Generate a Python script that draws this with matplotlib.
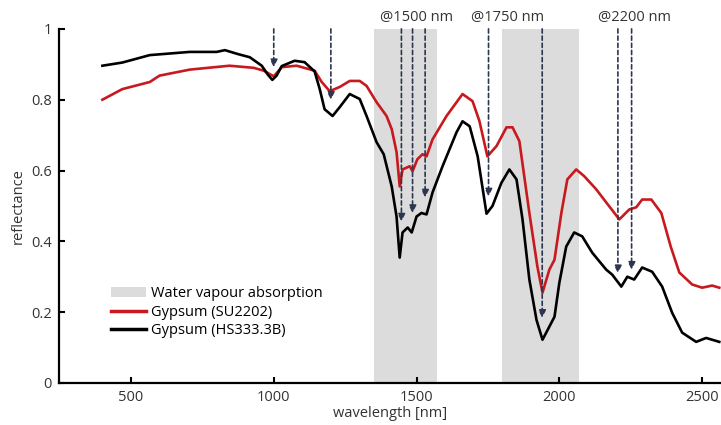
import matplotlib.pyplot as plt
from matplotlib.patches import Patch
from matplotlib.lines import Line2D

plt.rcParams['font.family'] = ['Open Sans', 'DejaVu Sans']

# Gypsum (HS333.3B) - black
wl_hs = [400, 470, 566, 706, 800, 829, 874, 916, 958, 980, 995, 1010, 1028, 1073,
         1108, 1143, 1161, 1178, 1206, 1231, 1266, 1301, 1325, 1360, 1385, 1413,
         1430, 1441, 1451, 1469, 1483, 1500, 1517, 1535, 1556, 1591, 1640, 1661,
         1686, 1714, 1745, 1766, 1797, 1825, 1850, 1871, 1895, 1920, 1941, 1965,
         1983, 2000, 2024, 2052, 2080, 2115, 2164, 2185, 2217, 2238, 2262, 2290,
         2325, 2360, 2395, 2430, 2479, 2514, 2535, 2560]
refl_hs = [0.896, 0.905, 0.926, 0.935, 0.935, 0.94, 0.929, 0.92, 0.896, 0.87, 0.856,
           0.868, 0.895, 0.91, 0.906, 0.88, 0.83, 0.773, 0.754, 0.779, 0.816, 0.802,
           0.754, 0.68, 0.646, 0.555, 0.47, 0.354, 0.425, 0.439, 0.425, 0.47, 0.48,
           0.476, 0.538, 0.612, 0.708, 0.739, 0.725, 0.64, 0.478, 0.5, 0.565, 0.603,
           0.575, 0.462, 0.292, 0.178, 0.122, 0.159, 0.187, 0.283, 0.385, 0.425,
           0.414, 0.368, 0.32, 0.306, 0.272, 0.3, 0.292, 0.326, 0.314, 0.272, 0.198,
           0.142, 0.116, 0.127, 0.122, 0.116]

# Gypsum (SU2202) - red
wl_su = [400, 470, 566, 600, 706, 845, 930, 965, 1000, 1028, 1080, 1143, 1168, 1196,
         1231, 1266, 1301, 1325, 1360, 1395, 1413, 1430, 1441, 1451, 1476, 1486,
         1503, 1521, 1535, 1556, 1605, 1661, 1696, 1720, 1748, 1780, 1815, 1836,
         1860, 1895, 1923, 1941, 1965, 1983, 2007, 2028, 2059, 2087, 2129, 2164,
         2210, 2245, 2269, 2290, 2322, 2357, 2390, 2420, 2465, 2500, 2535, 2560]
refl_su = [0.80, 0.83, 0.85, 0.868, 0.885, 0.896, 0.89, 0.882, 0.866, 0.892, 0.896,
           0.882, 0.85, 0.824, 0.836, 0.853, 0.853, 0.839, 0.793, 0.754, 0.717, 0.652,
           0.555, 0.603, 0.612, 0.598, 0.632, 0.646, 0.64, 0.688, 0.754, 0.816, 0.796,
           0.74, 0.64, 0.669, 0.722, 0.722, 0.683, 0.48, 0.329, 0.255, 0.32, 0.348,
           0.48, 0.575, 0.603, 0.584, 0.547, 0.51, 0.462, 0.49, 0.496, 0.518, 0.518,
           0.48, 0.385, 0.312, 0.278, 0.269, 0.275, 0.269]

# water vapour absorption bands
bands = [(1350, 1570), (1800, 2070)]

# absorption feature arrows: wavelength and arrow tip
arrow_wl = [1000, 1200, 1447, 1486, 1530, 1752, 1940, 2205, 2253]
arrow_tip = [0.892, 0.80, 0.456, 0.48, 0.524, 0.527, 0.184, 0.31, 0.32]

feature_labels = ['@1500 nm', '@1750 nm', '@2200 nm']
feature_label_x = [1500, 1818, 2262]

red = '#c8191e'
arrow_col = '#2d3650'
text_col = '#333333'

fig = plt.figure(figsize=(7.21, 4.25), dpi=100)
ax = fig.add_axes([0.0818, 0.099, 0.9182, 0.833])

for lo, hi in bands:
    ax.axvspan(lo, hi, ymin=0, ymax=1, color='#dcdcdc', lw=0, zorder=0)

ax.plot(wl_su, refl_su, color=red, lw=1.9, zorder=3)
ax.plot(wl_hs, refl_hs, color='black', lw=1.9, zorder=3)

for x, tip in zip(arrow_wl, arrow_tip):
    ax.annotate('', xy=(x, tip), xytext=(x, 1.0),
                arrowprops=dict(arrowstyle='-|>', linestyle=(0, (2.5, 1.8)),
                                color=arrow_col, lw=1.2, shrinkA=0, shrinkB=0,
                                mutation_scale=11),
                zorder=4)

for lab, x in zip(feature_labels, feature_label_x):
    ax.text(x, 1.033, lab, ha='center', va='center', fontsize=10.5,
            color=text_col, clip_on=False)

ax.set_xlim(248, 2566)
ax.set_ylim(0, 1)
ax.set_xticks([500, 1000, 1500, 2000, 2500])
ax.set_yticks([0, 0.2, 0.4, 0.6, 0.8, 1])
ax.set_yticklabels(['0', '0.2', '0.4', '0.6', '0.8', '1'])
ax.tick_params(direction='in', length=4, width=1.5, pad=5, labelsize=10.5,
               labelcolor=text_col)
for s in ['top', 'right']:
    ax.spines[s].set_visible(False)
for s in ['left', 'bottom']:
    ax.spines[s].set_linewidth(1.6)

ax.set_xlabel('wavelength [nm]', fontsize=10.5, color=text_col, labelpad=1)
ax.set_ylabel('reflectance', fontsize=10.5, color=text_col, labelpad=4)

handles = [Patch(facecolor='#dcdcdc', edgecolor='none'),
           Line2D([], [], color=red, lw=2.5),
           Line2D([], [], color='black', lw=2.5)]
ax.legend(handles, ['Water vapour absorption', 'Gypsum (SU2202)', 'Gypsum (HS333.3B)'],
          loc='upper left', bbox_to_anchor=(0.07, 0.29), frameon=False,
          fontsize=10.5, handlelength=2.4, handletextpad=0.3, labelspacing=0.25,
          borderaxespad=0)

fig.savefig('out.png', dpi=100)
